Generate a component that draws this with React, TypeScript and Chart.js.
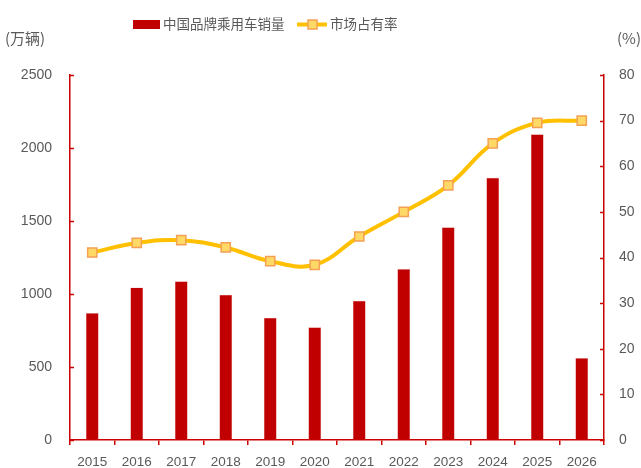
import React, { useEffect, useRef } from "react";
import { Chart, registerables } from "chart.js";

Chart.register(...registerables);

const years = ["2015", "2016", "2017", "2018", "2019", "2020", "2021", "2022", "2023", "2024", "2025", "2026"];
const salesWan = [870, 1045, 1087, 995, 838, 772, 954, 1171, 1457, 1797, 2094, 562];
const sharePct = [41.1, 43.2, 43.8, 42.2, 39.2, 38.4, 44.6, 50.0, 55.8, 65.0, 69.5, 70.0];
const salesLabel = "中国品牌乘用车销量";
const shareLabel = "市场占有率";
const leftTitle = "(万辆)";
const rightTitle = "(%)";

const RED = "#C00000";
const AXIS = "#CC0000";
const GOLD = "#FFC000";
const MARK_FILL = "#FFD966";
const MARK_BORDER = "#F4A055";
const TEXT = "#595959";
const CJK = '"Noto Sans CJK SC", "Liberation Sans", sans-serif';
const NUM = '"Liberation Sans", sans-serif';

const decorPlugin = {
  id: "decor",
  afterDraw(chart: any) {
    const ctx = chart.ctx;
    ctx.save();
    // inward ticks on y axes
    ctx.strokeStyle = AXIS;
    ctx.lineWidth = 1.5;
    const yl = chart.scales.y;
    const yr = chart.scales.y1;
    yl.ticks.forEach((_: any, i: number) => {
      const y = Math.round(yl.getPixelForTick(i)) + 0.5;
      ctx.beginPath();
      ctx.moveTo(yl.right, y);
      ctx.lineTo(yl.right + 4, y);
      ctx.stroke();
    });
    yr.ticks.forEach((_: any, i: number) => {
      const y = Math.round(yr.getPixelForTick(i)) + 0.5;
      ctx.beginPath();
      ctx.moveTo(yr.left - 4, y);
      ctx.lineTo(yr.left, y);
      ctx.stroke();
    });
    // legend
    const ds = chart.data.datasets;
    ctx.textBaseline = "middle";
    ctx.fillStyle = RED;
    ctx.fillRect(133, 20, 27, 9);
    ctx.fillStyle = TEXT;
    ctx.font = `13.5px ${CJK}`;
    ctx.textAlign = "left";
    ctx.fillText(ds[0].label, 163, 24);
    ctx.strokeStyle = GOLD;
    ctx.lineWidth = 4;
    ctx.beginPath();
    ctx.moveTo(297, 24.5);
    ctx.lineTo(327, 24.5);
    ctx.stroke();
    ctx.fillStyle = MARK_FILL;
    ctx.strokeStyle = MARK_BORDER;
    ctx.lineWidth = 1.5;
    ctx.fillRect(308, 20, 9, 9);
    ctx.strokeRect(308, 20, 9, 9);
    ctx.fillStyle = TEXT;
    ctx.fillText(ds[1].label, 330, 24);
    // axis titles
    ctx.font = `15px ${CJK}`;
    ctx.fillText(leftTitle, 5, 38);
    ctx.fillText(rightTitle, 617, 38);
    ctx.restore();
  },
};

export default function App() {
  const ref = useRef<HTMLCanvasElement | null>(null);
  useEffect(() => {
    document.body.style.margin = "0";
    const canvas = ref.current;
    if (!canvas) return;
    const chart = new Chart(canvas, {
      type: "bar",
      data: {
        labels: years,
        datasets: [
          {
            type: "bar",
            label: salesLabel,
            data: salesWan,
            backgroundColor: RED,
            borderColor: "rgba(230,120,120,0.6)",
            borderWidth: 0.5,
            barPercentage: 0.29,
            categoryPercentage: 1,
            yAxisID: "y",
            order: 2,
          },
          {
            type: "line",
            label: shareLabel,
            data: sharePct,
            borderColor: GOLD,
            borderWidth: 4,
            tension: 0.4,
            pointStyle: "rect",
            pointRadius: 6.5,
            pointBackgroundColor: MARK_FILL,
            pointBorderColor: MARK_BORDER,
            pointBorderWidth: 1.5,
            yAxisID: "y1",
            order: 1,
          } as any,
        ],
      },
      options: {
        responsive: false,
        animation: false,
        layout: { padding: { top: 75, left: 0, right: 0, bottom: 0 } },
        plugins: { legend: { display: false }, tooltip: { enabled: false } },
        scales: {
          x: {
            grid: {
              drawOnChartArea: false,
              drawTicks: true,
              tickLength: 5,
              color: AXIS,
              lineWidth: 1.5,
            },
            border: { color: AXIS, width: 1.5 },
            ticks: { color: TEXT, font: { family: NUM, size: 13.5 }, padding: 9, maxRotation: 0 },
            afterFit: (s: any) => {
              s.height = 28;
            },
          },
          y: {
            position: "left",
            min: 0,
            max: 2500,
            grid: { drawOnChartArea: false, drawTicks: false },
            border: { color: AXIS, width: 1.5 },
            ticks: {
              stepSize: 500,
              color: TEXT,
              font: { family: NUM, size: 14 },
              padding: 18,
              callback: (v: any) => String(v),
            },
            afterFit: (s: any) => {
              s.width = 70;
            },
          },
          y1: {
            position: "right",
            min: 0,
            max: 80,
            grid: { drawOnChartArea: false, drawTicks: false },
            border: { color: AXIS, width: 1.5 },
            ticks: {
              stepSize: 10,
              color: TEXT,
              font: { family: NUM, size: 14 },
              padding: 15,
              callback: (v: any) => String(v),
            },
            afterFit: (s: any) => {
              s.width = 37;
            },
          },
        },
      } as any,
      plugins: [decorPlugin],
    });
    return () => chart.destroy();
  }, []);
  return <canvas ref={ref} width={641} height={468} style={{ display: "block" }} />;
}
